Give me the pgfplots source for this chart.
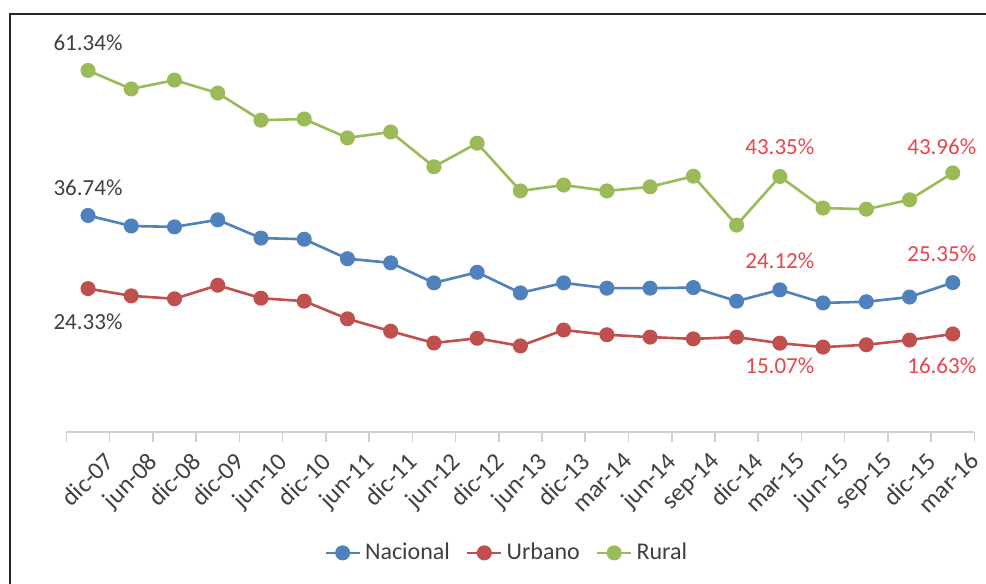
\documentclass[border=0pt]{standalone}
\usepackage{pgfplots}
\pgfplotsset{compat=1.18}
\usepackage{fontspec}
\setmainfont{Carlito}
\definecolor{cNac}{HTML}{4F81BD}
\definecolor{cUrb}{HTML}{C0504D}
\definecolor{cRur}{HTML}{9BBB59}
\definecolor{lblgray}{HTML}{404040}
\definecolor{lblred}{HTML}{E8464B}
\definecolor{axgray}{HTML}{D0D0D0}
\begin{document}
\begin{tikzpicture}
\useasboundingbox (0,0) rectangle (493pt,292pt);
\fill[white] (0,0) rectangle (493pt,292pt);
\draw[line width=1.2pt, black!85] (5pt,-1pt) -- (5pt,285pt) -- (494pt,285pt);
\begin{axis}[
 at={(33.2pt,76pt)}, anchor=south west,
 scale only axis, width=454pt, height=206.3pt,
 xmin=-0.5, xmax=20.5, ymin=0, ymax=70,
 axis x line=bottom, axis y line=none,
 x axis line style={-, draw=axgray, line width=0.8pt},
 xtick={0,...,20},
 xticklabels={dic-07,jun-08,dic-08,dic-09,jun-10,dic-10,jun-11,dic-11,jun-12,dic-12,jun-13,dic-13,mar-14,jun-14,sep-14,dic-14,mar-15,jun-15,sep-15,dic-15,mar-16},
 major tick length=0pt,
 minor xtick={-0.5,0.5,...,20.5},
 minor tick length=5pt,
 xtick align=outside,
 minor tick style={draw=axgray, line width=0.8pt},
 xticklabel style={rotate=45, anchor=north east, font=\fontsize{12.5}{14}\selectfont, text=lblgray, inner sep=1pt, yshift=-11pt, xshift=0pt},
 ytick=\empty,
 clip=false,
 legend columns=3,
 legend style={at={(0.486,-0.293)}, anchor=center, draw=none, fill=none, font=\fontsize{12}{14}\selectfont, text=lblgray, /tikz/every even column/.append style={column sep=6pt}},
 every axis plot/.append style={line width=1.3pt, mark=*, mark size=3.1pt},
]
\addplot[color=cNac, mark options={fill=cNac}] table {
0 36.74
1 34.95
2 34.8
3 36.0
4 32.9
5 32.7
6 29.4
7 28.7
8 25.3
9 27.1
10 23.6
11 25.3
12 24.4
13 24.4
14 24.5
15 22.2
16 24.12
17 21.9
18 22.1
19 22.9
20 25.35
};
\addlegendentry{Nacional}
\addplot[color=cUrb, mark options={fill=cUrb}] table {
0 24.33
1 23.1
2 22.6
3 24.9
4 22.7
5 22.2
6 19.2
7 17.1
8 15.1
9 15.9
10 14.6
11 17.3
12 16.5
13 16.1
14 15.8
15 16.1
16 15.07
17 14.4
18 14.8
19 15.6
20 16.63
};
\addlegendentry{Urbano}
\addplot[color=cRur, mark options={fill=cRur}] table {
0 61.34
1 58.2
2 59.7
3 57.5
4 52.9
5 53.1
6 49.9
7 50.9
8 45.0
9 49.0
10 40.9
11 41.9
12 40.9
13 41.6
14 43.4
15 35.1
16 43.35
17 38.0
18 37.8
19 39.4
20 43.96
};
\addlegendentry{Rural}
\tikzset{dl/.style={font=\fontsize{11.5}{13}\selectfont}}
\node[dl, text=lblgray] at (axis cs:0,61.34) [yshift=14pt] {61.34\%};
\node[dl, text=lblgray] at (axis cs:0,36.74) [yshift=14pt] {36.74\%};
\node[dl, text=lblgray] at (axis cs:0,24.33) [yshift=-16.5pt] {24.33\%};
\node[dl, text=lblred] at (axis cs:16,43.35) [yshift=15pt] {43.35\%};
\node[dl, text=lblred] at (axis cs:20,43.96) [yshift=13pt, xshift=-5.5pt] {43.96\%};
\node[dl, text=lblred] at (axis cs:16,24.12) [yshift=14.5pt] {24.12\%};
\node[dl, text=lblred] at (axis cs:20,25.35) [yshift=14.5pt, xshift=-5.5pt] {25.35\%};
\node[dl, text=lblred] at (axis cs:16,15.07) [yshift=-11.5pt] {15.07\%};
\node[dl, text=lblred] at (axis cs:20,16.63) [yshift=-16pt, xshift=-5.5pt] {16.63\%};
\end{axis}
\end{tikzpicture}
\end{document}
